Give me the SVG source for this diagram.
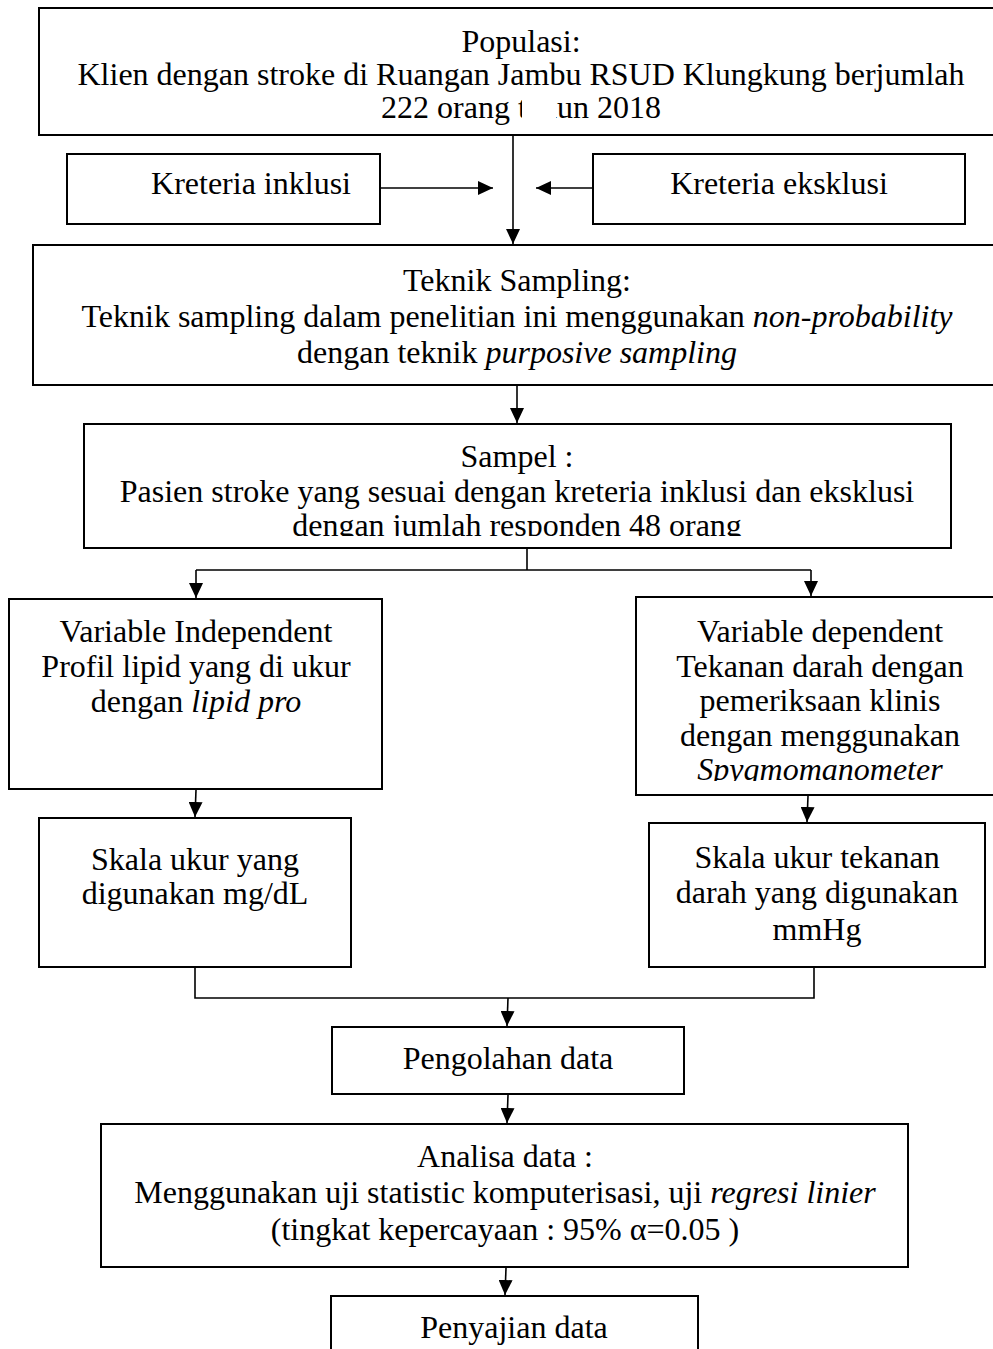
<svg xmlns="http://www.w3.org/2000/svg" width="993" height="1349" viewBox="0 0 993 1349">
<style>
.box{fill:#fff;stroke:#000;stroke-width:2}
.t{font-family:"Liberation Serif","Times New Roman",serif;font-size:32px;fill:#000;text-anchor:middle}
.i{font-style:italic}
.c{fill:none;stroke:#000;stroke-width:1.6}
</style>
<defs>
<marker id="ah" markerUnits="userSpaceOnUse" markerWidth="15" markerHeight="14" refX="15" refY="7" orient="auto">
<path d="M0,0 L15,7 L0,14 Z" fill="#000"/>
</marker>
<clipPath id="clipTop"><rect x="0" y="0" width="993" height="125"/></clipPath>
<clipPath id="clipSampel"><rect x="0" y="0" width="993" height="536"/></clipPath>
<clipPath id="clipDep"><rect x="0" y="0" width="993" height="781"/></clipPath>
</defs>
<rect width="993" height="1349" fill="#fff"/>

<g id="populasi">
<rect class="box" x="39" y="8" width="966" height="127"/>
<text class="t" x="521" y="52">Populasi:</text>
<text class="t" x="521" y="85">Klien dengan stroke di Ruangan Jambu RSUD Klungkung berjumlah</text>
<text class="t" x="521" y="118" clip-path="url(#clipTop)">222 orang tahun 2018</text>
<rect x="522" y="94" width="34" height="34" fill="#fff"/>
</g>

<g id="inklusi">
<rect class="box" x="67" y="154" width="313" height="70"/>
<text class="t" x="251" y="194">Kreteria inklusi</text>
</g>

<g id="eksklusi">
<rect class="box" x="593" y="154" width="372" height="70"/>
<text class="t" x="779" y="194">Kreteria eksklusi</text>
</g>

<g id="teknik">
<rect class="box" x="33" y="245" width="970" height="140"/>
<text class="t" x="517" y="291">Teknik Sampling:</text>
<text class="t" x="517" y="327">Teknik sampling dalam penelitian ini menggunakan <tspan class="i">non-probability</tspan></text>
<text class="t" x="517" y="363">dengan teknik <tspan class="i">purposive sampling</tspan></text>
</g>

<g id="sampel">
<rect class="box" x="84" y="424" width="867" height="124"/>
<text class="t" x="517" y="467">Sampel :</text>
<text class="t" x="517" y="502">Pasien stroke yang sesuai dengan kreteria inklusi dan eksklusi</text>
<text class="t" x="517" y="536" clip-path="url(#clipSampel)">dengan jumlah responden 48 orang</text>
</g>

<g id="var-independent">
<rect class="box" x="9" y="599" width="373" height="190"/>
<text class="t" x="196" y="642">Variable Independent</text>
<text class="t" x="196" y="677">Profil lipid yang di ukur</text>
<text class="t" x="196" y="712">dengan <tspan class="i">lipid pro</tspan></text>
</g>

<g id="var-dependent">
<rect class="box" x="636" y="597" width="370" height="198"/>
<text class="t" x="820" y="642">Variable dependent</text>
<text class="t" x="820" y="676.5">Tekanan darah dengan</text>
<text class="t" x="820" y="711">pemeriksaan klinis</text>
<text class="t" x="820" y="745.5">dengan menggunakan</text>
<text class="t i" x="820" y="780" clip-path="url(#clipDep)">Spygmomanometer</text>
</g>

<g id="skala-lipid">
<rect class="box" x="39" y="818" width="312" height="149"/>
<text class="t" x="195" y="870">Skala ukur yang</text>
<text class="t" x="195" y="904">digunakan mg/dL</text>
</g>

<g id="skala-tekanan">
<rect class="box" x="649" y="823" width="336" height="144"/>
<text class="t" x="817" y="868">Skala ukur tekanan</text>
<text class="t" x="817" y="903">darah yang digunakan</text>
<text class="t" x="817" y="940">mmHg</text>
</g>

<g id="pengolahan">
<rect class="box" x="332" y="1027" width="352" height="67"/>
<text class="t" x="508" y="1069">Pengolahan data</text>
</g>

<g id="analisa">
<rect class="box" x="101" y="1124" width="807" height="143"/>
<text class="t" x="505" y="1167">Analisa data :</text>
<text class="t" x="505" y="1203">Menggunakan uji statistic komputerisasi, uji <tspan class="i">regresi linier</tspan></text>
<text class="t" x="505" y="1240">(tingkat kepercayaan : 95% α=0.05 )</text>
</g>

<g id="penyajian">
<rect class="box" x="331" y="1296" width="367" height="70"/>
<text class="t" x="514" y="1338">Penyajian data</text>
</g>

<g id="connectors">
<line class="c" x1="513" y1="136" x2="513" y2="244" marker-end="url(#ah)"/>
<line class="c" x1="381" y1="188" x2="493" y2="188" marker-end="url(#ah)"/>
<line class="c" x1="592" y1="188" x2="536" y2="188" marker-end="url(#ah)"/>
<line class="c" x1="517" y1="386" x2="517" y2="423" marker-end="url(#ah)"/>
<path class="c" d="M527,549 V570 M196,570 H811"/>
<line class="c" x1="196" y1="570" x2="196" y2="598" marker-end="url(#ah)"/>
<line class="c" x1="811" y1="570" x2="811" y2="596" marker-end="url(#ah)"/>
<line class="c" x1="196" y1="790" x2="195" y2="817" marker-end="url(#ah)"/>
<line class="c" x1="808" y1="796" x2="807" y2="822" marker-end="url(#ah)"/>
<path class="c" d="M195,968 V998 H814 V968"/>
<line class="c" x1="508" y1="998" x2="507" y2="1026" marker-end="url(#ah)"/>
<line class="c" x1="508" y1="1095" x2="507" y2="1123" marker-end="url(#ah)"/>
<line class="c" x1="506" y1="1268" x2="505" y2="1295" marker-end="url(#ah)"/>
</g>
</svg>
